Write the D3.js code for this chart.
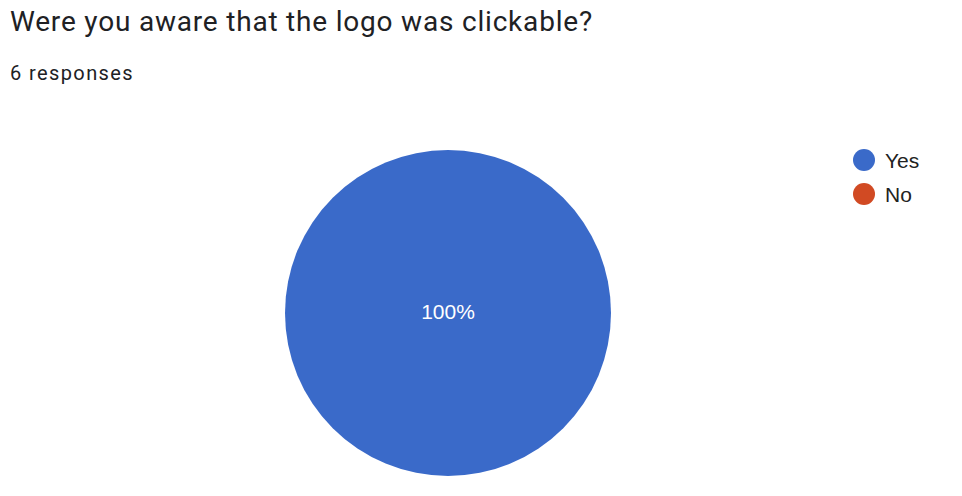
<!DOCTYPE html>
<html lang="en">
<head>
<meta charset="UTF-8">
<title>Were you aware that the logo was clickable?</title>
<script src="https://d3js.org/d3.v7.min.js"></script>
<style>
    body { margin: 0; background: #fff; }
    .title { font-family: Roboto, sans-serif; font-size: 28px; fill: #202124; letter-spacing: 0.8px; }
    .subtitle { font-family: Roboto, sans-serif; font-size: 20px; fill: #202124; letter-spacing: 1.4px; }
    .legend text { font-family: "Liberation Sans", Arial, sans-serif; font-size: 21px; fill: #222; }
    .slice-label { font-family: "Liberation Sans", Arial, sans-serif; font-size: 21px; fill: #fff; }
</style>
</head>
<body>
<div id="chart"></div>
<script>
    // Données
    const categories = ["Yes", "No"];
    const counts = [6, 0];
    const colors = ["#3a6ac9", "#d14a23"];
    const title = "Were you aware that the logo was clickable?";
    const subtitle = "6 responses";

    const width = 962, height = 496;
    const cx = 448, cy = 313, radius = 163;

    const svg = d3.select("#chart").append("svg")
        .attr("width", width)
        .attr("height", height);

    svg.append("text").attr("class", "title")
        .attr("x", 10).attr("y", 31)
        .text(title);

    svg.append("text").attr("class", "subtitle")
        .attr("x", 10).attr("y", 80)
        .text(subtitle);

    const data = categories.map((c, i) => ({ label: c, value: counts[i], color: colors[i] }));
    const total = d3.sum(counts);

    const pie = d3.pie().sort(null).value(d => d.value);
    const arc = d3.arc().innerRadius(0).outerRadius(radius);

    const g = svg.append("g").attr("transform", `translate(${cx},${cy})`);

    const arcs = pie(data).filter(d => d.data.value > 0);

    g.selectAll("path")
        .data(arcs)
        .join("path")
        .attr("d", arc)
        .attr("fill", d => d.data.color);

    // Étiquettes (centrées si une seule tranche)
    const labelArc = d3.arc().innerRadius(radius * 0.55).outerRadius(radius * 0.55);
    g.selectAll(".slice-label")
        .data(arcs)
        .join("text")
        .attr("class", "slice-label")
        .attr("text-anchor", "middle")
        .attr("dy", "0.3em")
        .attr("transform", d => arcs.length === 1 ? "translate(0,0)" : `translate(${labelArc.centroid(d)})`)
        .text(d => d3.format(".0%")(d.data.value / total));

    // Légende
    const legendY = d3.scalePoint().domain(categories).range([160, 194]);
    const legend = svg.append("g").attr("class", "legend");
    const items = legend.selectAll("g")
        .data(data)
        .join("g")
        .attr("transform", d => `translate(864,${legendY(d.label)})`);
    items.append("circle").attr("r", 11).attr("fill", d => d.color);
    items.append("text")
        .attr("x", 21)
        .attr("dy", "0.36em")
        .text(d => d.label);
</script>
</body>
</html>
